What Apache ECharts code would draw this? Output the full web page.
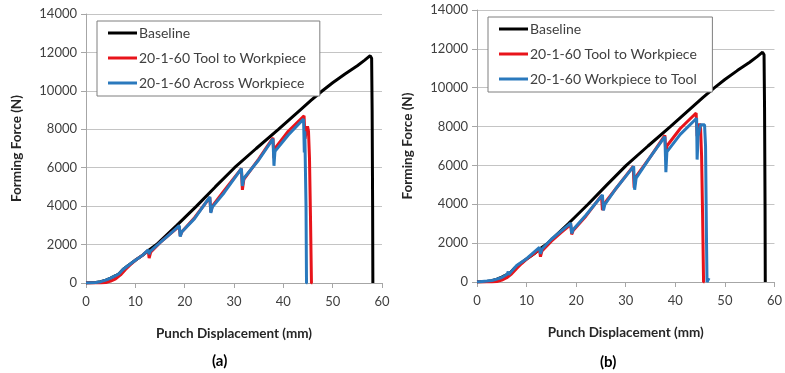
<!DOCTYPE html>
<html>
<head>
<meta charset="utf-8">
<script src="https://cdn.jsdelivr.net/npm/echarts@6/dist/echarts.min.js"></script>
<style>
  html, body { margin: 0; padding: 0; background: #fff; }
  #chart { width: 785px; height: 373px; }
</style>
</head>
<body>
<div id="chart"></div>
<script>
// [displacement mm, force N]
const baseline = [
  [0, 0], [2, 30], [3, 70], [4, 150], [5, 250], [6, 380], [6.7, 480], [7.5, 700], [8.5, 900],
  [10, 1180], [11.5, 1450], [12.8, 1720], [14.3, 2000], [18.4, 3000], [22.4, 4000], [26.2, 5000],
  [30.1, 6000], [34.5, 7000], [39, 8000], [43.4, 9000], [45.6, 9500], [47.8, 9980], [50, 10420],
  [52.5, 10880], [55, 11310], [56.5, 11600], [57.6, 11830], [57.9, 11700], [58, 9000],
  [58.1, 4000], [58.15, 0]
];

const toolToWorkpiece = [
  [0, 0], [3, 0], [4, 20], [5, 100], [6, 220], [7, 420], [8, 700], [9, 950], [10, 1180],
  [11.5, 1450], [12.6, 1700], [12.8, 1300], [13.1, 1600], [15, 2100], [17, 2550], [18.9, 2950],
  [19.1, 2450], [19.4, 2650], [22, 3400], [25.1, 4450], [25.3, 3700], [25.6, 4000], [28, 4800],
  [31.5, 5950], [31.7, 4850], [32, 5400], [35, 6450], [37.9, 7550], [38.1, 6500], [38.3, 7000],
  [41, 7900], [44.2, 8700], [44.4, 7500], [44.7, 8000], [44.9, 8150], [45.1, 7900],
  [45.3, 6500], [45.5, 3500], [45.7, 0], [45.9, 0]
];

const acrossWorkpiece = [
  [0, 0], [2, 30], [3, 70], [4, 150], [5, 250], [6, 380], [6.7, 480], [7.5, 700], [8.5, 900],
  [10, 1180], [11.5, 1450], [12.6, 1720], [12.8, 1500], [13, 1650], [15, 2100], [17, 2550],
  [18.9, 2980], [19.1, 2420], [19.4, 2650], [22, 3350], [25.1, 4480], [25.3, 3650], [25.6, 3950],
  [28, 4700], [31.5, 5950], [31.7, 5050], [32, 5450], [35, 6400], [37.9, 7500], [38.1, 6100],
  [38.3, 6850], [41, 7700], [44.1, 8540], [44.25, 6800], [44.35, 7900], [44.6, 4000],
  [44.7, 0], [44.9, 0]
];

const workpieceToTool = [
  [0, 0], [2, 50], [3, 80], [4, 150], [5, 230], [6.1, 400], [6.3, 540], [6.4, 380], [7, 560],
  [8, 850], [10, 1200], [12.6, 1780], [12.8, 1450], [13.1, 1700], [15, 2200], [18.9, 3030],
  [19.1, 2500], [19.4, 2700], [22, 3450], [25.3, 4480], [25.5, 3680], [25.8, 4000], [28, 4800],
  [31.6, 5950], [31.8, 4750], [32.1, 5350], [35, 6450], [37.9, 7480], [38.1, 5650], [38.3, 6700],
  [41, 7600], [44.3, 8430], [44.4, 6300], [44.6, 7500], [45.1, 8090], [45.9, 8090],
  [46.1, 7000], [46.3, 2000], [46.4, 0], [46.6, 100], [46.8, 200]
];

const panelNames = ['(a)', '(b)'];
const legendA = ['Baseline', '20-1-60 Tool to Workpiece', '20-1-60 Across Workpiece'];
const legendB = ['Baseline', '20-1-60 Tool to Workpiece', '20-1-60 Workpiece to Tool'];

const font = 'Lato, "Open Sans", sans-serif';
const colors = ['#000000', '#e8141b', '#2a79bd'];

const xAxisBase = {
  type: 'value', min: 0, max: 60, interval: 10,
  name: 'Punch Displacement (mm)', nameLocation: 'middle', nameGap: 44,
  nameTextStyle: { fontFamily: font, fontSize: 13.5, fontWeight: 'bold', color: '#262626' },
  axisLine: { show: true, lineStyle: { color: '#a6a6a6', width: 1 } },
  axisTick: { show: true, inside: false, length: 5, lineStyle: { color: '#a6a6a6' } },
  axisLabel: { fontFamily: font, fontSize: 13, color: '#404040', margin: 12 },
  splitLine: { show: false }
};
const yAxisBase = {
  type: 'value', min: 0, max: 14000, interval: 2000,
  name: 'Forming Force (N)', nameLocation: 'middle', nameGap: 62,
  nameTextStyle: { fontFamily: font, fontSize: 13.5, fontWeight: 'bold', color: '#262626' },
  axisLine: { show: true, lineStyle: { color: '#a6a6a6', width: 1 } },
  axisTick: { show: true, inside: false, length: 5, lineStyle: { color: '#a6a6a6' } },
  axisLabel: { fontFamily: font, fontSize: 13, color: '#404040', margin: 9, formatter: v => String(v) },
  splitLine: { show: true, lineStyle: { color: '#c4c4c4', width: 1 } }
};

const legendBase = {
  orient: 'vertical', icon: 'rect', itemWidth: 29, itemHeight: 3, itemGap: 7,
  backgroundColor: '#fff', borderColor: '#7f7f7f', borderWidth: 1,
  textStyle: { fontFamily: font, fontSize: 14, color: '#404040', lineHeight: 18, padding: [0, 0, 0, -3] },
  selectedMode: false
};

function line(name, data, xi, color) {
  return {
    name: name, type: 'line', data: data, xAxisIndex: xi, yAxisIndex: xi,
    showSymbol: false, symbol: 'none', smooth: false, animation: false,
    lineStyle: { color: color, width: 3 }, itemStyle: { color: color }
  };
}

const chart = echarts.init(document.getElementById('chart'));
chart.setOption({
  animation: false,
  color: colors,
  title: [
    { text: panelNames[0], left: 207, top: 349, textStyle: { fontFamily: font, fontSize: 15, fontWeight: 'bold', color: '#000' } },
    { text: panelNames[1], left: 595, top: 350, textStyle: { fontFamily: font, fontSize: 15, fontWeight: 'bold', color: '#000' } }
  ],
  grid: [
    { left: 86, top: 14, width: 296, height: 269 },
    { left: 477, top: 10, width: 299, height: 272 }
  ],
  xAxis: [Object.assign({ gridIndex: 0 }, xAxisBase), Object.assign({ gridIndex: 1 }, xAxisBase)],
  yAxis: [Object.assign({ gridIndex: 0 }, yAxisBase), Object.assign({ gridIndex: 1 }, yAxisBase)],
  legend: [
    Object.assign({}, legendBase, { left: 97, top: 21, padding: [3, 14, 4, 11], data: [
      { name: legendA[0] }, { name: legendA[1] }, { name: legendA[2] }
    ] }),
    Object.assign({}, legendBase, { left: 488, top: 17, padding: [3, 12, 4, 11], data: [
      { name: legendB[0] + ' ' }, { name: legendB[1] + ' ' }, { name: legendB[2] }
    ] })
  ],
  series: [
    line(legendA[0], baseline, 0, colors[0]),
    line(legendA[1], toolToWorkpiece, 0, colors[1]),
    line(legendA[2], acrossWorkpiece, 0, colors[2]),
    line(legendB[0] + ' ', baseline, 1, colors[0]),
    line(legendB[1] + ' ', toolToWorkpiece, 1, colors[1]),
    line(legendB[2], workpieceToTool, 1, colors[2])
  ]
});
</script>
</body>
</html>
